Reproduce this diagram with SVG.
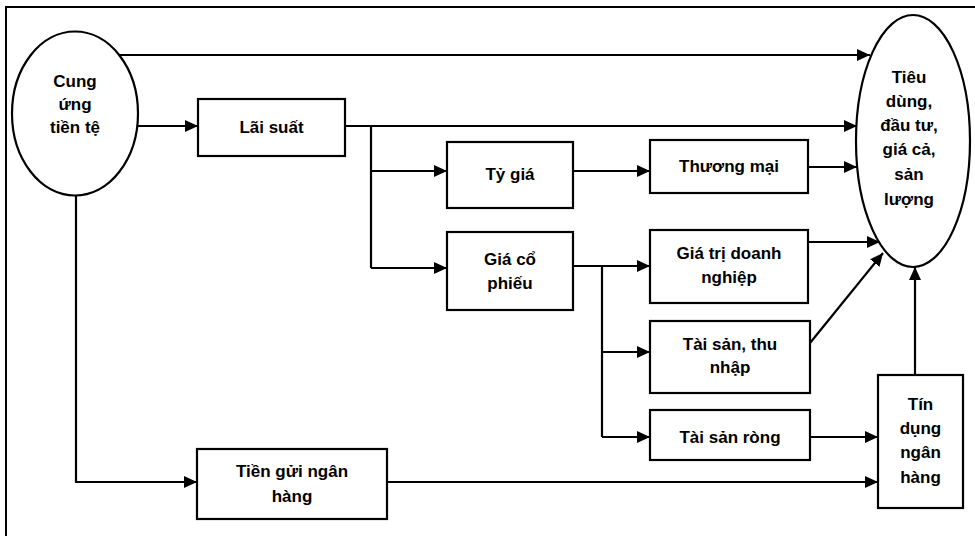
<svg xmlns="http://www.w3.org/2000/svg" width="975" height="536" viewBox="0 0 975 536">
<defs>
<style>
.frame{fill:none;stroke:#000;stroke-width:2}
.box{fill:#fff;stroke:#000;stroke-width:2.2}
.ell{fill:#fff;stroke:#000;stroke-width:2.2}
.ln{fill:none;stroke:#000;stroke-width:2.2}
.arr{fill:none;stroke:#000;stroke-width:2.2;marker-end:url(#ah)}
text{font-family:"Liberation Sans",Arial,sans-serif;font-weight:bold;font-size:17px;fill:#000;text-anchor:middle}
</style>
<marker id="ah" markerUnits="userSpaceOnUse" markerWidth="14" markerHeight="12" refX="13" refY="6" orient="auto">
<path d="M0,0 L13,6 L0,12 Z" fill="#000"/>
</marker>
</defs>
<rect width="975" height="536" fill="#fff"/>
<path class="frame" d="M6,536 L6,7 L975,7"/>

<g id="connectors">
<line class="arr" x1="119" y1="55" x2="870" y2="55"/>
<line class="arr" x1="138" y1="126" x2="198" y2="126"/>
<line class="arr" x1="345" y1="126" x2="857" y2="126"/>
<polyline class="ln" points="371,126 371,268"/>
<line class="arr" x1="371" y1="171" x2="447" y2="171"/>
<line class="arr" x1="371" y1="268" x2="447" y2="268"/>
<line class="arr" x1="573" y1="171" x2="650" y2="171"/>
<line class="arr" x1="808" y1="167" x2="857" y2="167"/>
<line class="arr" x1="573" y1="266" x2="650" y2="266"/>
<polyline class="ln" points="602,266 602,437"/>
<line class="arr" x1="602" y1="352" x2="650" y2="352"/>
<line class="arr" x1="602" y1="437" x2="650" y2="437"/>
<line class="arr" x1="808" y1="242" x2="880" y2="242"/>
<line class="arr" x1="810" y1="343" x2="883" y2="253"/>
<line class="arr" x1="810" y1="437" x2="878" y2="437"/>
<line class="arr" x1="915" y1="375" x2="915" y2="267"/>
<polyline class="arr" points="76,195 76,482 197,482"/>
<line class="arr" x1="387" y1="482" x2="878" y2="482"/>
</g>

<g id="cung-ung-tien-te">
<ellipse class="ell" cx="75" cy="113.5" rx="63" ry="82"/>
<text x="75" y="87">Cung</text>
<text x="75" y="110">ứng</text>
<text x="75" y="133">tiền tệ</text>
</g>

<g id="tieu-dung">
<ellipse class="ell" cx="913" cy="141" rx="57" ry="126"/>
<text x="909" y="83">Tiêu</text>
<text x="909" y="107">dùng,</text>
<text x="909" y="131">đầu tư,</text>
<text x="909" y="155">giá cả,</text>
<text x="909" y="180">sản</text>
<text x="909" y="205">lượng</text>
</g>

<g id="lai-suat">
<rect class="box" x="198" y="99" width="147" height="57"/>
<text x="271.5" y="133">Lãi suất</text>
</g>

<g id="ty-gia">
<rect class="box" x="447" y="142" width="126" height="66"/>
<text x="510" y="180">Tỷ giá</text>
</g>

<g id="thuong-mai">
<rect class="box" x="650" y="140" width="158" height="53"/>
<text x="729" y="172">Thương mại</text>
</g>

<g id="gia-co-phieu">
<rect class="box" x="447" y="232" width="126" height="78"/>
<text x="510" y="265">Giá cổ</text>
<text x="510" y="289">phiếu</text>
</g>

<g id="gia-tri-doanh-nghiep">
<rect class="box" x="650" y="230" width="158" height="73"/>
<text x="729" y="259">Giá trị doanh</text>
<text x="729" y="283">nghiệp</text>
</g>

<g id="tai-san-thu-nhap">
<rect class="box" x="650" y="321" width="160" height="72"/>
<text x="730" y="350">Tài sản, thu</text>
<text x="730" y="373">nhập</text>
</g>

<g id="tai-san-rong">
<rect class="box" x="650" y="410" width="160" height="50"/>
<text x="730" y="443">Tài sản ròng</text>
</g>

<g id="tin-dung-ngan-hang">
<rect class="box" x="878" y="375" width="85" height="133"/>
<text x="920.5" y="410">Tín</text>
<text x="920.5" y="434">dụng</text>
<text x="920.5" y="458">ngân</text>
<text x="920.5" y="483">hàng</text>
</g>

<g id="tien-gui-ngan-hang">
<rect class="box" x="197" y="449" width="190" height="70"/>
<text x="292" y="477">Tiền gửi ngân</text>
<text x="292" y="502">hàng</text>
</g>
</svg>
